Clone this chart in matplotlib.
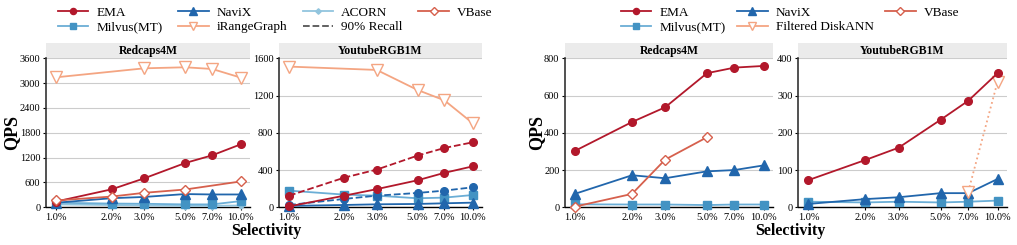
import numpy as np
import matplotlib
matplotlib.use("Agg")
import matplotlib.pyplot as plt
from matplotlib.lines import Line2D
from matplotlib.patches import Rectangle

plt.rcParams['font.family'] = ['Liberation Serif', 'DejaVu Serif']

sel = [1, 2, 3, 5, 7, 10]
sel_labels = ["1.0%", "2.0%", "3.0%", "5.0%", "7.0%", "10.0%"]
nan = np.nan

# ---- Left figure: Redcaps4M ----
rc_ema = [140, 435, 700, 1070, 1256, 1522]
rc_navix = [110, 220, 250, 320, 310, 310]
rc_acorn = [70, 55, 45, 35, 35, 45]
rc_vbase = [165, 260, 350, 430, nan, 625]
rc_milvus = [110, 90, 85, 70, 70, 150]
rc_irange = [3141, nan, 3358, 3383, 3342, 3133]

# ---- Left figure: YoutubeRGB1M ----
yt_ema = [10, 125, 195, 290, 370, 440]
yt_ema90 = [125, 319, 405, 555, 637, 698]
yt_navix = [15, 25, 32, 36, 43, 50]
yt_navix90 = [25, 90, 125, 154, 179, 215]
yt_milvus = [179, 136, 125, 97, 104, 132]
yt_irange = [1511, nan, 1475, 1260, 1149, 902]

# ---- Right figure: Redcaps4M ----
rc2_ema = [304, 458, 537, 720, 750, 759]
rc2_navix = [73, 172, 156, 193, 200, 225]
rc2_vbase = [4, 72, 256, 376, nan, nan]
rc2_milvus = [16, 15, 15, 12, 15, 15]

# ---- Right figure: YoutubeRGB1M ----
yt2_ema = [73, 127, 160, 235, 286, 360]
yt2_navix = [9, 22, 27, 38, 38, 76]
yt2_milvus = [15, 13, 15, 13, 15, 18]
yt2_fdisk = [nan, nan, nan, nan, 42, 337]

C_EMA = '#b2182b'
C_NAVIX = '#2166ac'
C_ACORN = '#92c5de'
C_VBASE = '#d6604d'
C_MILVUS = '#4393c3'
C_MILVUS_L = '#6baed6'
C_IRANGE = '#f4a582'

LW = 1.3

styles = {
    'EMA': dict(color=C_EMA, marker='o', ms=5.5, mfc=C_EMA, mec=C_EMA),
    'NaviX': dict(color=C_NAVIX, marker='^', ms=6.5, mfc=C_NAVIX, mec=C_NAVIX),
    'ACORN': dict(color=C_ACORN, marker='D', ms=3.5, mfc=C_ACORN, mec=C_ACORN),
    'VBase': dict(color=C_VBASE, marker='D', ms=5.5, mfc='white', mec=C_VBASE, mew=1.0),
    'Milvus(MT)': dict(color=C_MILVUS_L, marker='s', ms=5.5, mfc=C_MILVUS, mec=C_MILVUS),
    'iRangeGraph': dict(color=C_IRANGE, marker='v', ms=8, mfc='white', mec=C_IRANGE, mew=1.0),
}


def plot(ax, y, key, ls='-', **kw):
    y = np.asarray(y, dtype=float)
    m = ~np.isnan(y)
    x = np.asarray(sel, dtype=float)[m]
    st = dict(styles[key])
    st.update(kw)
    ax.plot(x, y[m], ls=ls, lw=LW, clip_on=False, zorder=3, **st)


def setup(ax, ymax, step, title):
    ax.set_xscale('log')
    ax.set_xlim(10 ** -0.055, 10 ** 1.05)
    ax.set_ylim(0, ymax)
    ax.set_yticks(np.arange(0, ymax + 1, step))
    ax.set_xticks(sel)
    ax.set_xticklabels(sel_labels)
    ax.minorticks_off()
    ax.tick_params(axis='both', labelsize=7.5, length=2.5, width=0.8, pad=1.5)
    for s in ['top', 'right']:
        ax.spines[s].set_visible(False)
    ax.spines['left'].set_color('#333333')
    ax.spines['left'].set_linewidth(1.2)
    ax.spines['bottom'].set_linewidth(1.0)
    ax.grid(axis='y', color='#cccccc', lw=0.8)
    ax.set_axisbelow(True)
    h = 15 / 149
    ax.add_patch(Rectangle((0, 1.0), 1, h, transform=ax.transAxes,
                           facecolor='#ebebeb', edgecolor='none', clip_on=False))
    ax.text(0.5, 1.0 + h / 2, title, transform=ax.transAxes, ha='center',
            va='center', fontsize=8.5, fontweight='bold')


fig = plt.figure(figsize=(10.17, 2.45), dpi=100)
b = (245 - 207.3) / 245
hgt = 149 / 245
ax1 = fig.add_axes([46 / 1017, b, 204 / 1017, hgt])
ax2 = fig.add_axes([279 / 1017, b, 203 / 1017, hgt])
ax3 = fig.add_axes([565 / 1017, b, 208 / 1017, hgt])
ax4 = fig.add_axes([798 / 1017, b, 209 / 1017, hgt])

setup(ax1, 3600, 600, 'Redcaps4M')
setup(ax2, 1600, 400, 'YoutubeRGB1M')
setup(ax3, 800, 200, 'Redcaps4M')
setup(ax4, 400, 100, 'YoutubeRGB1M')

# ax1
plot(ax1, rc_acorn, 'ACORN')
plot(ax1, rc_milvus, 'Milvus(MT)')
plot(ax1, rc_navix, 'NaviX')
plot(ax1, rc_ema, 'EMA')
plot(ax1, rc_vbase, 'VBase')
plot(ax1, rc_irange, 'iRangeGraph')

# ax2
plot(ax2, yt_milvus, 'Milvus(MT)')
plot(ax2, yt_navix, 'NaviX')
plot(ax2, yt_navix90, 'NaviX', ls='--', marker='o', ms=5.5)
plot(ax2, yt_ema, 'EMA')
plot(ax2, yt_ema90, 'EMA', ls='--')
plot(ax2, yt_irange, 'iRangeGraph')

# ax3
plot(ax3, rc2_milvus, 'Milvus(MT)')
plot(ax3, rc2_navix, 'NaviX')
plot(ax3, rc2_vbase, 'VBase')
plot(ax3, rc2_ema, 'EMA')

# ax4
plot(ax4, yt2_milvus, 'Milvus(MT)')
plot(ax4, yt2_navix, 'NaviX')
plot(ax4, yt2_fdisk, 'iRangeGraph', ls=':')
plot(ax4, yt2_ema, 'EMA')

for x in [12 / 1017, 537 / 1017]:
    fig.text(x, (245 - 132) / 245, 'QPS', rotation=90, ha='center',
             va='center', fontsize=13, fontweight='bold')
fig.text(266 / 1017, 1 - 231 / 245, 'Selectivity', ha='center', va='center',
         fontsize=11.5, fontweight='bold')
fig.text(790 / 1017, 1 - 231 / 245, 'Selectivity', ha='center', va='center',
         fontsize=11.5, fontweight='bold')


def h(key, label=None, **kw):
    st = dict(styles[key])
    st.update(kw)
    return Line2D([], [], lw=LW, label=label or key, **st)


rec = Line2D([], [], color='#555555', ls='--', lw=LW, label='90% Recall')
left_handles = [h('EMA'), h('Milvus(MT)'), h('NaviX'), h('iRangeGraph'),
                h('ACORN'), rec, h('VBase')]
fig.legend(handles=left_handles, ncol=4, loc='center', bbox_to_anchor=(275 / 1017, 1 - 20 / 245),
           frameon=False, fontsize=9.5, handlelength=2.3, columnspacing=1.2,
           labelspacing=0.15, handletextpad=0.6, borderpad=0.1, markerscale=0.8)

right_handles = [h('EMA'), h('Milvus(MT)'), h('NaviX'),
                 h('iRangeGraph', label='Filtered DiskANN'), h('VBase')]
fig.legend(handles=right_handles, ncol=3, loc='center', bbox_to_anchor=(790 / 1017, 1 - 20 / 245),
           frameon=False, fontsize=9.5, handlelength=2.3, columnspacing=0.9,
           labelspacing=0.15, handletextpad=0.6, borderpad=0.1, markerscale=0.8)

fig.savefig('out.png', dpi=100)
